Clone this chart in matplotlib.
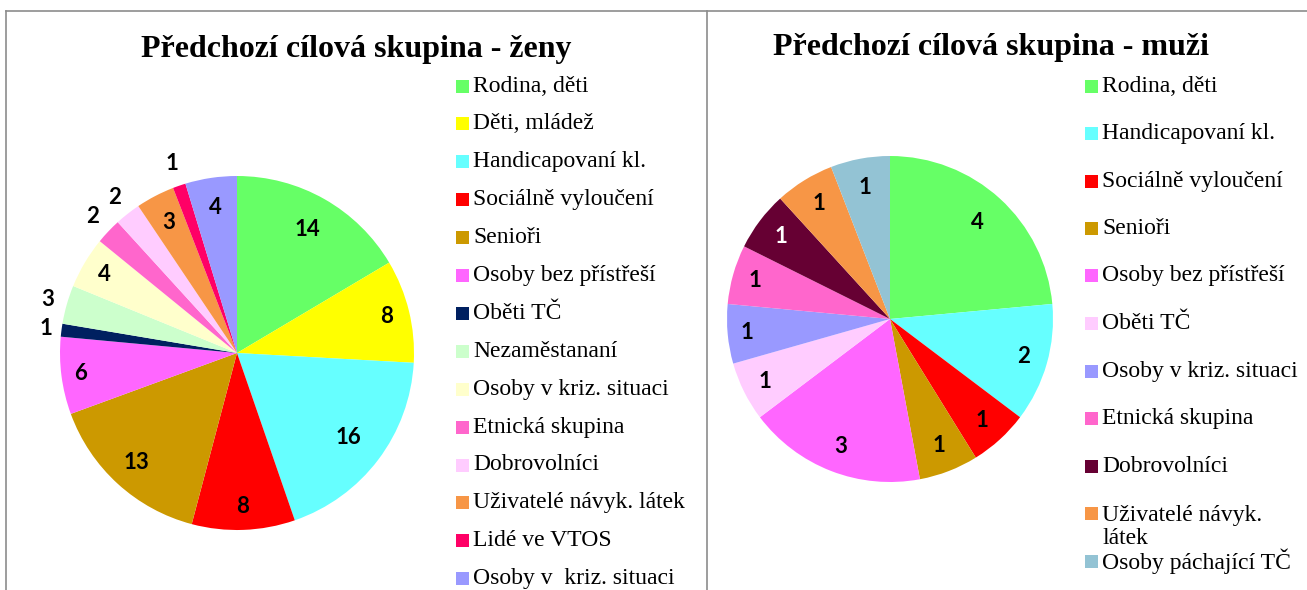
import numpy as np
import matplotlib.pyplot as plt
from matplotlib.patches import Rectangle
from matplotlib.lines import Line2D

W, H = 1307, 590

# data - left chart (women)
zeny_labels = ['Rodina, děti', 'Děti, mládež', 'Handicapovaní kl.', 'Sociálně vyloučení',
               'Senioři', 'Osoby bez přístřeší', 'Oběti TČ', 'Nezaměstananí',
               'Osoby v kriz. situaci', 'Etnická skupina', 'Dobrovolníci',
               'Uživatelé návyk. látek', 'Lidé ve VTOS', 'Osoby v  kriz. situaci']
zeny_values = [14, 8, 16, 8, 13, 6, 1, 3, 4, 2, 2, 3, 1, 4]
zeny_colors = ['#66FF66', '#FFFF00', '#66FFFF', '#FF0000', '#CC9900', '#FF66FF', '#002060',
               '#CCFFCC', '#FFFFCC', '#FF66CC', '#FFCCFF', '#F79646', '#FF0066', '#9999FF']

# data - right chart (men)
muzi_labels = ['Rodina, děti', 'Handicapovaní kl.', 'Sociálně vyloučení', 'Senioři',
               'Osoby bez přístřeší', 'Oběti TČ', 'Osoby v kriz. situaci', 'Etnická skupina',
               'Dobrovolníci', 'Uživatelé návyk.\nlátek', 'Osoby páchající TČ']
muzi_values = [4, 2, 1, 1, 3, 1, 1, 1, 1, 1, 1]
muzi_colors = ['#66FF66', '#66FFFF', '#FF0000', '#CC9900', '#FF66FF', '#FFCCFF', '#9999FF',
               '#FF66CC', '#660033', '#F79646', '#93C3D4']

fig = plt.figure(figsize=(W / 100, H / 100), dpi=100)


def pie_axes(cx, cy, r):
    ax = fig.add_axes([(cx - r) / W, (H - cy - r) / H, 2 * r / W, 2 * r / H])
    return ax


def draw_pie(ax, values, colors, dists, white=()):
    wedges, _ = ax.pie(values, colors=colors, startangle=90, counterclock=False,
                       radius=1, wedgeprops=dict(linewidth=0))
    ax.set_xlim(-1, 1)
    ax.set_ylim(-1, 1)
    ax.set_aspect('equal')
    ax.axis('off')
    for i, (w, v) in enumerate(zip(wedges, values)):
        a = np.deg2rad((w.theta1 + w.theta2) / 2)
        d = dists[i]
        ax.text(d * np.cos(a), d * np.sin(a), str(v), ha='center', va='center',
                fontsize=16, fontweight='bold', family='Lato',
                color='white' if i in white else 'black')


LEG_FS = 17
LINE_PX = 27


def draw_legend(x, y0, step, labels, colors):
    for i, (lab, col) in enumerate(zip(labels, colors)):
        y = y0 + i * step
        fig.patches.append(Rectangle((x / W, (H - y - 6.5) / H), 13 / W, 13 / H,
                                     transform=fig.transFigure, facecolor=col,
                                     edgecolor='none'))
        n = lab.count('\n')
        yc = y + n * LINE_PX / 2
        fig.text((x + 17) / W, (H - yc) / H, lab, ha='left', va='center',
                 fontsize=LEG_FS, family='Liberation Serif', linespacing=1.1)


ax1 = pie_axes(237, 353, 177)
d1 = [0.80, 0.87, 0.79, 0.87, 0.84, 0.89, 1.09, 1.11, 0.87, 1.12, 1.12, 0.83, 1.13, 0.83]
draw_pie(ax1, zeny_values, zeny_colors, d1)

ax2 = pie_axes(890, 319, 163)
d2 = [0.80, 0.85, 0.84, 0.83, 0.84, 0.86, 0.88, 0.86, 0.84, 0.83, 0.82]
draw_pie(ax2, muzi_values, muzi_colors, d2, white=(8,))

fig.text(356 / W, (H - 50) / H, 'Předchozí cílová skupina - ženy', ha='center', va='center',
         fontsize=23, fontweight='bold', family='Liberation Serif')
fig.text(991 / W, (H - 47) / H, 'Předchozí cílová skupina - muži', ha='center', va='center',
         fontsize=23, fontweight='bold', family='Liberation Serif')

draw_legend(456, 86, 37.9, zeny_labels, zeny_colors)
draw_legend(1085, 86, 47.5, muzi_labels, muzi_colors)

# frame
gray = '#8C8C8C'
fig.lines.append(Line2D([6 / W, 1], [1 - 11 / H, 1 - 11 / H], transform=fig.transFigure, color=gray, lw=1.2))
fig.lines.append(Line2D([6 / W, 6 / W], [0, 1 - 11 / H], transform=fig.transFigure, color=gray, lw=1.2))
fig.lines.append(Line2D([707 / W, 707 / W], [0, 1 - 11 / H], transform=fig.transFigure, color=gray, lw=1.2))

fig.savefig('out.png', dpi=100)
